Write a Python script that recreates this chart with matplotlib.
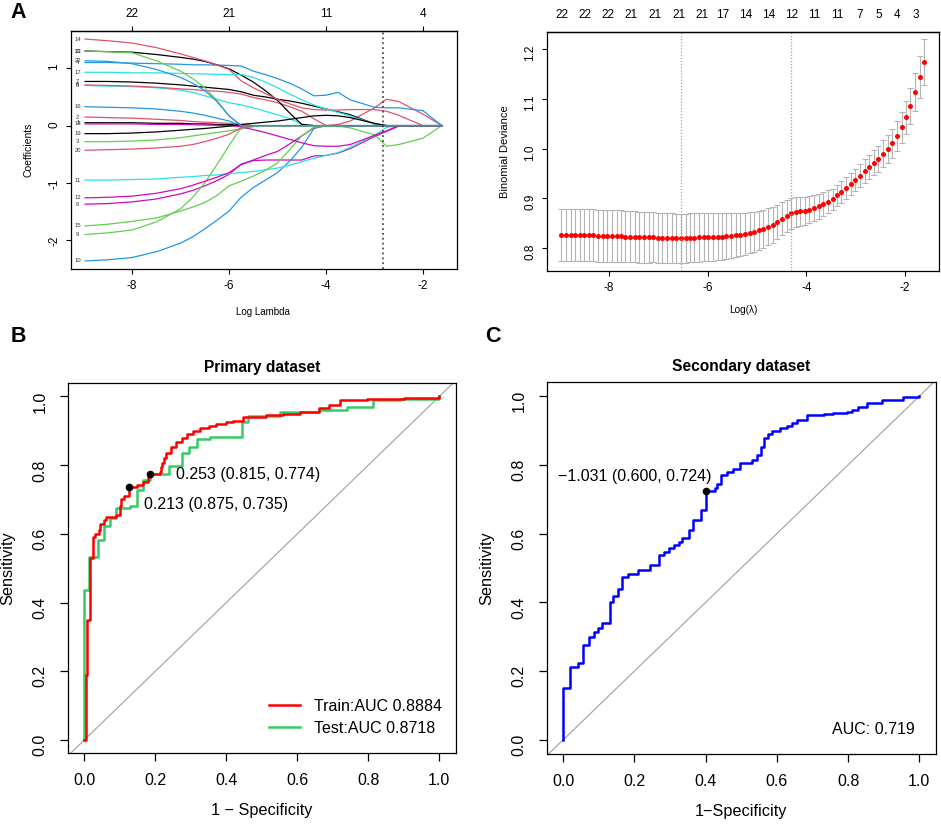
import matplotlib
matplotlib.use("Agg")
import matplotlib.pyplot as plt

# ── Style ──────────────────────────────────────────────
plt.rcParams.update({
    "font.family": ["Liberation Sans", "DejaVu Sans"],
    "axes.linewidth": 0.9,
    "axes.unicode_minus": False,
})

PATH_COLORS = ["black", "#DF536B", "#61D04F", "#2297E6", "#28E2E5", "#CD0BBC"]

# ── Panel A (left): lasso coefficient paths ───────────
PATH_LOGLAMBDA = [-8.97, -8.5, -8.0, -7.5, -7.0, -6.75, -6.5, -6.25, -6.0, -5.75,
                  -5.5, -5.25, -5.0, -4.75, -4.5, -4.25, -4.0, -3.75, -3.5, -3.0,
                  -2.75, -2.5, -2.0, -1.61]
COEF_PATHS = {
    1: [0.05, 0.05, 0.05, 0.04, 0.04, 0.03, 0.03, 0.02, 0.02, 0.01,
        0, 0, 0, 0, 0, 0, 0, 0, 0, 0, 0, 0, 0, 0],
    2: [0.15, 0.14, 0.13, 0.11, 0.09, 0.07, 0.06, 0.05, 0.04, 0.02,
        0, 0, 0, 0, 0, 0, 0, 0.02, 0.08, 0.31, 0.46, 0.42, 0.20, 0],
    3: [-0.28, -0.28, -0.27, -0.25, -0.21, -0.18, -0.15, -0.12, -0.09, -0.06,
        -0.02, 0, 0, 0, 0, 0, 0, 0, 0, 0, 0, 0, 0, 0],
    4: [1.10, 1.10, 1.09, 1.08, 1.07, 1.06, 1.06, 1.055, 1.05, 1.04,
        0.95, 0.89, 0.82, 0.74, 0.64, 0.52, 0.53, 0.58, 0.45, 0.32, 0.31, 0.31, 0.26, 0],
    5: [0.70, 0.69, 0.68, 0.66, 0.62, 0.58, 0.52, 0.46, 0.40, 0.36,
        0.31, 0.25, 0.19, 0.12, 0.03, 0, 0, 0, 0, 0, 0, 0, 0, 0],
    6: [-1.37, -1.36, -1.33, -1.28, -1.19, -1.13, -1.05, -0.96, -0.85, -0.67,
        -0.61, -0.60, -0.60, -0.60, -0.60, -0.53, -0.52, -0.48, -0.40, -0.19, -0.10, -0.01, 0, 0],
    7: [0.77, 0.77, 0.76, 0.74, 0.71, 0.69, 0.67, 0.65, 0.63, 0.59,
        0.53, 0.50, 0.46, 0.43, 0.39, 0.34, 0.29, 0.24, 0.19, 0.03, 0, 0, 0, 0],
    8: [0.71, 0.70, 0.69, 0.67, 0.64, 0.63, 0.61, 0.60, 0.58, 0.55,
        0.49, 0.45, 0.40, 0.33, 0.25, 0.12, 0, 0, 0, 0, 0, 0, 0, 0],
    9: [-1.90, -1.87, -1.82, -1.68, -1.45, -1.25, -1.00, -0.68, -0.35, -0.03,
        0, 0, 0, 0, 0, 0, 0, 0, 0, 0, 0, 0, 0, 0],
    10: [-2.36, -2.34, -2.30, -2.20, -2.05, -1.94, -1.80, -1.65, -1.49, -1.25,
         -1.08, -0.95, -0.82, -0.62, -0.38, -0.05, 0, 0, 0, 0, 0, 0, 0, 0],
    11: [-0.95, -0.95, -0.94, -0.93, -0.90, -0.89, -0.87, -0.86, -0.84, -0.82,
         -0.80, -0.77, -0.74, -0.69, -0.63, -0.57, -0.52, -0.47, -0.38, -0.17, -0.03, 0, 0, 0],
    12: [-1.26, -1.25, -1.23, -1.18, -1.10, -1.04, -0.97, -0.90, -0.82, -0.68,
         -0.60, -0.52, -0.45, -0.32, -0.18, -0.04, 0, 0, 0, 0, 0, 0, 0, 0],
    13: [1.30, 1.29, 1.28, 1.24, 1.19, 1.16, 1.12, 1.06, 0.99, 0.88,
         0.76, 0.61, 0.44, 0.22, 0.02, 0, 0, 0, 0, 0, 0, 0, 0, 0],
    14: [1.51, 1.48, 1.44, 1.36, 1.25, 1.19, 1.13, 1.06, 0.98, 0.78,
         0.66, 0.56, 0.46, 0.38, 0.31, 0.28, 0.27, 0.27, 0.28, 0.28, 0.25, 0.18, 0, 0],
    15: [-1.75, -1.72, -1.67, -1.61, -1.49, -1.42, -1.34, -1.22, -1.05, -0.97,
         -0.88, -0.78, -0.65, -0.42, -0.18, -0.03, -0.01, -0.01, -0.04, -0.16, -0.36, -0.33, -0.22, 0],
    16: [0.33, 0.32, 0.31, 0.29, 0.25, 0.22, 0.18, 0.13, 0.08, 0,
         0, 0, 0, 0, 0, 0, 0, 0, 0, 0, 0, 0, 0, 0],
    17: [0.93, 0.93, 0.92, 0.92, 0.91, 0.905, 0.90, 0.895, 0.89, 0.89,
         0.84, 0.76, 0.66, 0.55, 0.45, 0.36, 0.29, 0.23, 0.17, 0.03, 0, 0, 0, 0],
    18: [0.03, 0.03, 0.03, 0.02, 0.02, 0.015, 0.01, 0.005, 0, -0.02,
         -0.07, -0.12, -0.18, -0.24, -0.30, -0.35, -0.36, -0.36, -0.33, -0.17, -0.09, 0, 0, 0],
    19: [-0.14, -0.14, -0.13, -0.11, -0.08, -0.065, -0.05, -0.03, -0.01, 0.02,
         0.04, 0.06, 0.08, 0.11, 0.14, 0.17, 0.18, 0.17, 0.14, 0.04, 0, 0, 0, 0],
    20: [-0.43, -0.42, -0.41, -0.39, -0.36, -0.33, -0.28, -0.22, -0.15, -0.04,
         0, 0, 0, 0, 0, 0, 0, 0, 0, 0, 0, 0, 0, 0],
    21: [1.30, 1.29, 1.27, 1.13, 0.95, 0.82, 0.66, 0.44, 0.17, 0,
         0, 0, 0, 0, 0, 0, 0, 0, 0, 0, 0, 0, 0, 0],
    22: [1.13, 1.12, 1.08, 0.98, 0.84, 0.74, 0.61, 0.42, 0.17, 0,
         0, 0, 0, 0, 0, 0, 0, 0, 0, 0, 0, 0, 0, 0],
}
PATH_TOP_TICKS = [-8, -6, -4, -2]
PATH_TOP_LABELS = ["22", "21", "11", "4"]
PATH_CUTOFF = -2.83

# ── Panel A (right): cross-validation deviance ────────
CV_LOGLAMBDA = [
    -8.97, -8.88, -8.78, -8.69, -8.60, -8.50, -8.41, -8.32, -8.22, -8.13,
    -8.04, -7.94, -7.85, -7.76, -7.67, -7.57, -7.48, -7.39, -7.29, -7.20,
    -7.11, -7.01, -6.92, -6.83, -6.73, -6.64, -6.55, -6.45, -6.36, -6.27,
    -6.17, -6.08, -5.99, -5.89, -5.80, -5.71, -5.62, -5.52, -5.43, -5.34,
    -5.24, -5.15, -5.06, -4.96, -4.87, -4.78, -4.68, -4.59, -4.50, -4.40,
    -4.31, -4.22, -4.12, -4.03, -3.94, -3.84, -3.75, -3.66, -3.56, -3.47,
    -3.38, -3.29, -3.19, -3.10, -3.01, -2.91, -2.82, -2.73, -2.63, -2.54,
    -2.45, -2.35, -2.26, -2.17, -2.07, -1.98, -1.89, -1.79, -1.70, -1.61,
]
CV_DEVIANCE = [
    0.827, 0.827, 0.827, 0.827, 0.826, 0.826, 0.826, 0.826, 0.825, 0.825,
    0.825, 0.824, 0.824, 0.824, 0.823, 0.823, 0.823, 0.822, 0.822, 0.822,
    0.822, 0.821, 0.821, 0.821, 0.821, 0.820, 0.820, 0.820, 0.821, 0.821,
    0.822, 0.822, 0.822, 0.823, 0.823, 0.823, 0.824, 0.825, 0.826, 0.827,
    0.829, 0.831, 0.833, 0.836, 0.839, 0.843, 0.847, 0.852, 0.859, 0.865,
    0.870, 0.872, 0.874, 0.875, 0.877, 0.880, 0.884, 0.888, 0.893, 0.898,
    0.906, 0.913, 0.921, 0.929, 0.937, 0.946, 0.955, 0.963, 0.972, 0.980,
    0.990, 0.999, 1.011, 1.026, 1.043, 1.063, 1.086, 1.114, 1.144, 1.174,
]
CV_SE = [
    0.052, 0.052, 0.052, 0.052, 0.052, 0.052, 0.052, 0.052, 0.052, 0.052,
    0.052, 0.052, 0.052, 0.052, 0.051, 0.051, 0.051, 0.051, 0.051, 0.051,
    0.050, 0.050, 0.050, 0.050, 0.050, 0.049, 0.049, 0.049, 0.049, 0.049,
    0.049, 0.048, 0.048, 0.048, 0.047, 0.047, 0.046, 0.045, 0.044, 0.043,
    0.042, 0.041, 0.040, 0.039, 0.038, 0.037, 0.036, 0.034, 0.033, 0.032,
    0.031, 0.030, 0.029, 0.028, 0.027, 0.026, 0.025, 0.024, 0.023, 0.022,
    0.022, 0.022, 0.022, 0.022, 0.023, 0.023, 0.024, 0.024, 0.025, 0.026,
    0.027, 0.028, 0.029, 0.030, 0.031, 0.033, 0.036, 0.039, 0.042, 0.046,
]
CV_TOP_POS = [-8.96, -8.49, -8.02, -7.56, -7.08, -6.59, -6.11, -5.69, -5.23,
              -4.76, -4.30, -3.84, -3.37, -2.91, -2.54, -2.16, -1.79]
CV_TOP_LABELS = ["22", "22", "22", "21", "21", "21", "21", "17", "14",
                 "14", "12", "11", "11", "7", "5", "4", "3"]
CV_LAMBDA_MIN = -6.54
CV_LAMBDA_1SE = -4.31

# ── Panel B: primary dataset ROC ──────────────────────
TRAIN_FPR = [0, 0.004, 0.008, 0.015, 0.023, 0.029, 0.040, 0.043, 0.055, 0.060,
             0.090, 0.100, 0.102, 0.111, 0.125, 0.147, 0.165, 0.180, 0.185, 0.212,
             0.216, 0.220, 0.225, 0.231, 0.245, 0.259, 0.275, 0.288, 0.305, 0.325,
             0.350, 0.372, 0.400, 0.419, 0.447, 0.513, 0.560, 0.607, 0.660, 0.690,
             0.720, 0.795, 0.900, 1.0]
TRAIN_TPR = [0, 0.19, 0.35, 0.53, 0.59, 0.60, 0.61, 0.63, 0.64, 0.65,
             0.655, 0.68, 0.70, 0.71, 0.735, 0.742, 0.752, 0.766, 0.774, 0.78,
             0.795, 0.805, 0.82, 0.834, 0.854, 0.868, 0.88, 0.892, 0.90, 0.907,
             0.915, 0.921, 0.926, 0.929, 0.941, 0.946, 0.95, 0.955, 0.965, 0.975,
             0.989, 0.992, 0.996, 1.0]
TEST_FPR = [0, 0, 0.013, 0.039, 0.055, 0.071, 0.090, 0.128, 0.147, 0.165,
            0.185, 0.239, 0.276, 0.295, 0.316, 0.353, 0.445, 0.461, 0.551, 0.660,
            0.739, 0.814, 0.889, 1.0]
TEST_TPR = [0, 0.436, 0.534, 0.582, 0.623, 0.645, 0.674, 0.681, 0.729, 0.757,
            0.774, 0.798, 0.834, 0.854, 0.875, 0.882, 0.926, 0.943, 0.955, 0.960,
            0.970, 0.989, 0.994, 1.0]
PRIMARY_CUTS = [(0.185, 0.774, "0.253 (0.815, 0.774)", 0.257, 0.773),
                (0.125, 0.735, "0.213 (0.875, 0.735)", 0.167, 0.684)]

# ── Panel C: secondary dataset ROC ────────────────────
SEC_FPR = [0, 0, 0.020, 0.043, 0.055, 0.074, 0.087, 0.099, 0.110, 0.132,
           0.141, 0.153, 0.166, 0.183, 0.209, 0.244, 0.268, 0.282, 0.297, 0.310,
           0.324, 0.334, 0.352, 0.364, 0.386, 0.400, 0.427, 0.431, 0.442, 0.459,
           0.478, 0.497, 0.529, 0.543, 0.555, 0.564, 0.576, 0.586, 0.609, 0.628,
           0.642, 0.656, 0.684, 0.731, 0.759, 0.796, 0.810, 0.829, 0.852, 0.894,
           0.955, 1.0]
SEC_TPR = [0, 0.150, 0.213, 0.225, 0.276, 0.298, 0.315, 0.325, 0.339, 0.402,
           0.419, 0.440, 0.473, 0.483, 0.495, 0.509, 0.537, 0.546, 0.558, 0.567,
           0.577, 0.586, 0.610, 0.640, 0.669, 0.724, 0.732, 0.743, 0.770, 0.778,
           0.787, 0.806, 0.814, 0.828, 0.853, 0.877, 0.891, 0.899, 0.906, 0.913,
           0.922, 0.932, 0.945, 0.948, 0.952, 0.954, 0.961, 0.967, 0.979, 0.990,
           0.998, 1.0]
SEC_CUT = (0.400, 0.724, "\u22121.031 (0.600, 0.724)", -0.013, 0.765)
SEC_AUC = "AUC: 0.719"

fig = plt.figure(figsize=(9.41, 8.40), dpi=100)

# ── A left ─────────────────────────────────────────────
ax1 = fig.add_axes([0.0755, 0.6798, 0.410, 0.2833])
for i, (var, vals) in enumerate(COEF_PATHS.items()):
    ax1.plot(PATH_LOGLAMBDA, vals, color=PATH_COLORS[i % 6], lw=0.9)
    ax1.text(-9.12, vals[0], str(var), fontsize=4.2, color="#333333",
             ha="center", va="center")
ax1.axvline(PATH_CUTOFF, color="#333333", lw=1.1, ls=(0, (1.2, 2.0)))
ax1.set_xlim(-9.26, -1.30)
ax1.set_ylim(-2.50, 1.65)
ax1.set_xticks([-8, -6, -4, -2])
ax1.set_yticks([-2, -1, 0, 1])
ax1.tick_params(labelsize=8.5, length=3.6, width=0.8, pad=4)
ax1.tick_params(axis="y", labelrotation=90)
top1 = ax1.secondary_xaxis("top")
top1.set_xticks(PATH_TOP_TICKS)
top1.set_xticklabels(PATH_TOP_LABELS)
top1.tick_params(labelsize=8.5, length=3.6, width=0.8, pad=4)
ax1.text(0.497, -0.181, "Log Lambda", transform=ax1.transAxes, fontsize=7,
         ha="center", va="center")
ax1.text(-0.109, 0.5, "Coefficients", transform=ax1.transAxes, fontsize=7.5,
         ha="center", va="center", rotation=90)

# ── A right ────────────────────────────────────────────
ax2 = fig.add_axes([0.5813, 0.6774, 0.4166, 0.2845])
ax2.errorbar(CV_LOGLAMBDA, CV_DEVIANCE, yerr=CV_SE, fmt="none",
             ecolor="#B4B4B4", elinewidth=0.8, capsize=2.2, capthick=0.8)
ax2.plot(CV_LOGLAMBDA, CV_DEVIANCE, "o", color="#FF0000", ms=3.6, mec="none")
for v in (CV_LAMBDA_MIN, CV_LAMBDA_1SE):
    ax2.axvline(v, color="#A0A0A0", lw=0.9, ls=(0, (1, 1.5)))
ax2.set_xlim(-9.26, -1.31)
ax2.set_ylim(0.754, 1.235)
ax2.set_xticks([-8, -6, -4, -2])
ax2.set_yticks([0.8, 0.9, 1.0, 1.1, 1.2])
ax2.set_yticklabels(["0.8", "0.9", "1.0", "1.1", "1.2"])
ax2.tick_params(labelsize=8.5, length=3.6, width=0.8, pad=4)
ax2.tick_params(axis="y", labelrotation=90)
top2 = ax2.secondary_xaxis("top")
top2.set_xticks(CV_TOP_POS)
top2.set_xticklabels(CV_TOP_LABELS)
top2.tick_params(labelsize=8.5, length=0, pad=8)
ax2.text(0.5, -0.163, "Log(\u03bb)", transform=ax2.transAxes, fontsize=7.2,
         ha="center", va="center")
ax2.text(-0.107, 0.5, "Binomial Deviance", transform=ax2.transAxes, fontsize=8,
         ha="center", va="center", rotation=90)


def roc_axes(rect, title, xlabel, xlim, ylim):
    ax = fig.add_axes(rect)
    ax.axline((0, 0), (1, 1), color="#A8A8A8", lw=0.9, zorder=1)
    ax.set_xlim(*xlim)
    ax.set_ylim(*ylim)
    ticks = [0.0, 0.2, 0.4, 0.6, 0.8, 1.0]
    labels = ["0.0", "0.2", "0.4", "0.6", "0.8", "1.0"]
    ax.set_xticks(ticks)
    ax.set_xticklabels(labels)
    ax.set_yticks(ticks)
    ax.set_yticklabels(labels)
    ax.tick_params(labelsize=11.5, length=5.5, width=0.9, pad=9)
    ax.tick_params(axis="y", labelrotation=90)
    ax.text(0.5, 1.04, title, transform=ax.transAxes, fontsize=11.2,
            fontweight="bold", ha="center", va="center")
    ax.text(0.5, -0.155, xlabel, transform=ax.transAxes, fontsize=11.7,
            ha="center", va="center")
    ax.text(-0.154, 0.5, "Sensitivity", transform=ax.transAxes, fontsize=11.7,
            ha="center", va="center", rotation=90)
    return ax


# ── B ──────────────────────────────────────────────────
ax3 = roc_axes([0.0719, 0.1036, 0.4127, 0.4408], "Primary dataset",
               "1 \u2212 Specificity", (-0.047, 1.047), (-0.038, 1.040))
ax3.plot(TEST_FPR, TEST_TPR, drawstyle="steps-post", color="#33CC66", lw=1.8,
         label="Test:AUC 0.8718")
ax3.plot(TRAIN_FPR, TRAIN_TPR, drawstyle="steps-post", color="#FF0000", lw=1.8,
         label="Train:AUC 0.8884")
for fx, fy, txt, tx, ty in PRIMARY_CUTS:
    ax3.plot(fx, fy, "o", color="black", ms=4.5, zorder=5)
    ax3.text(tx, ty, txt, fontsize=11.5, ha="left", va="center")
handles, labels = ax3.get_legend_handles_labels()
ax3.legend(handles[::-1], labels[::-1], loc="lower right",
           bbox_to_anchor=(0.985, 0.025), frameon=False, fontsize=11.5,
           handlelength=1.9, handletextpad=0.9, labelspacing=0.45,
           borderpad=0.0)

# ── C ──────────────────────────────────────────────────
ax4 = roc_axes([0.581, 0.1024, 0.4134, 0.4432], "Secondary dataset",
               "1\u2212Specificity", (-0.046, 1.046), (-0.041, 1.042))
ax4.plot(SEC_FPR, SEC_TPR, drawstyle="steps-post", color="#0000FF", lw=1.8)
fx, fy, txt, tx, ty = SEC_CUT
ax4.plot(fx, fy, "o", color="black", ms=4.5, zorder=5)
ax4.text(tx, ty, txt, fontsize=11.5, ha="left", va="center")
ax4.text(0.988, 0.031, SEC_AUC, fontsize=11.5, ha="right", va="center")

# ── Panel letters ──────────────────────────────────────
fig.text(18 / 941, 1 - 13 / 840, "A", fontsize=15.5, fontweight="bold",
         ha="center", va="center")
fig.text(18 / 941, 1 - 337 / 840, "B", fontsize=15.5, fontweight="bold",
         ha="center", va="center")
fig.text(493 / 941, 1 - 337 / 840, "C", fontsize=15.5, fontweight="bold",
         ha="center", va="center")

fig.savefig("out.png", dpi=100)
